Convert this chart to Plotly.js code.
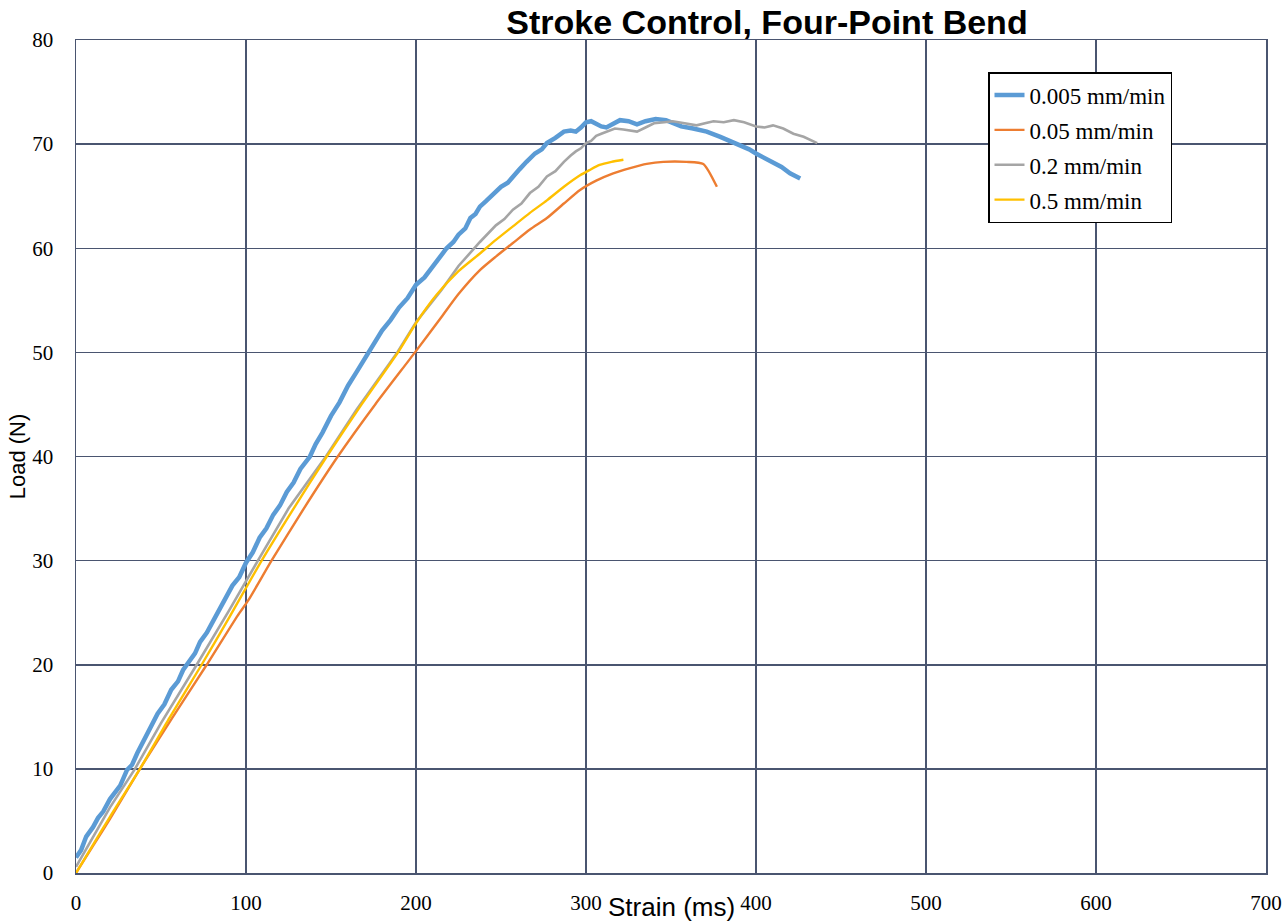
<!DOCTYPE html>
<html>
<head>
<meta charset="utf-8">
<script src="https://cdn.plot.ly/plotly-3.0.1.min.js"></script>
<style>html,body{margin:0;padding:0;background:#fff;}#chart{width:1285px;height:923px;}</style>
</head>
<body>
<div id="chart"></div>
<script>
const seriesNames = ["0.005 mm/min", "0.05 mm/min", "0.2 mm/min", "0.5 mm/min"];

const blueX = [0,3,6,10,13,16,20,23,26,30,33,36,40,44,48,52,56,60,63,66,70,73,77,80,84,88,92,96,100,104,108,112,116,120,124,128,132,137.6,141,145,150,155,160,165,171.8,176,180,185,190,195,200,205,210,214,218,222,225,229,232,235,237.6,241,245,250,254,257,261,265,270,274,277,282,287,291,294,297,300,303,306,309,312,316,320,325,330,335,341,347,352,356,363,371,379,385,391,396,400,405,410,415,420,426];
const blueY = [1.5,2.2,3.5,4.4,5.3,5.9,7.1,7.7,8.4,9.9,10.4,11.5,12.8,13.9,15.3,16.2,17.6,18.4,19.5,20.2,21.1,22.2,23.1,24,25.2,26.2,27.6,28.4,29.8,30.8,32.2,33.1,34.4,35.3,36.6,37.5,38.8,40,41.2,42.3,43.9,45.2,46.8,48.1,50,51,52.1,53.1,54.3,55.2,56.5,57.2,58.3,59,60,60.6,61.3,61.9,62.9,63.3,64,64.5,65.1,65.9,66.3,66.9,67.6,68.3,69.1,69.5,70.1,70.6,71.2,71.3,71.2,71.6,72.1,72.2,71.9,71.7,71.6,72.0,72.3,72.2,71.9,72.2,72.4,72.3,71.9,71.7,71.5,71.2,70.7,70.3,69.9,69.5,69.1,68.7,68.2,67.8,67.2,66.7];

const orangeX = [0,10,20,37.6,57,76.9,95,101.4,115,134,154,176,199.4,215,225,237.6,247,257,267,277,287,296.5,306,316,326,335.7,345.5,359,369,377];
const orangeY = [0,2.6,5.2,10,15,20,24.7,26.2,30,35,40,45,50,53.4,55.6,57.9,59.2,60.5,61.8,62.9,64.3,65.6,66.5,67.2,67.7,68.1,68.3,68.3,68.1,65.9];

const grayX = [0,10,20,34.7,50,71,90,107,125,147,165,189,200,215,225,237.6,247,252,257,262,267,272,277,282,287,291,294,297,300,303,306,309,312,317,322,326,330,335,340,346,351,358,365,370,375,381,387,393,400,405,410,416,422,428,436];
const grayY = [0.6,3.4,6.3,10,14.4,20,25.2,30,35,40,44.5,50,52.9,56,58.3,60.6,62.2,62.8,63.7,64.3,65.3,65.9,66.9,67.4,68.3,68.9,69.3,69.6,70.1,70.3,70.8,71.0,71.2,71.5,71.4,71.3,71.2,71.6,72.0,72.1,72.2,72.0,71.8,72.0,72.2,72.1,72.3,72.1,71.7,71.6,71.8,71.5,71.0,70.7,70.1];

const yellowX = [0,10,20,37.6,55,73.9,90,109.2,128,147.5,168,189.4,200,212,225,237.6,247,257,267,277,287,296.5,302,308,315,322];
const yellowY = [0,2.7,5.4,10,14.9,20,24.5,30,35,40,45,50,52.8,55.5,57.8,59.5,60.8,62.1,63.4,64.6,65.9,67,67.5,68,68.3,68.5];

const xTicks = [0,100,200,300,400,500,600,700];
const yTicks = [0,10,20,30,40,50,60,70,80];

const colors = ["#5B9BD5", "#ED7D31", "#A5A5A5", "#FFC000"];
const widths = [4.5, 2.4, 2.6, 2.4];
const shapes = ["linear", "spline", "linear", "spline"];
const xs = [blueX, orangeX, grayX, yellowX];
const ys = [blueY, orangeY, grayY, yellowY];

const traces = seriesNames.map((n, i) => ({
  x: xs[i], y: ys[i], name: n, type: "scatter", mode: "lines",
  legendgroup: "g" + i,
  line: {color: colors[i], width: widths[i], shape: shapes[i], smoothing: 0.6}
}));

const gridColor = "#4A5570";
const layout = {
  width: 1285, height: 923,
  paper_bgcolor: "#fff", plot_bgcolor: "#fff",
  margin: {l: 76, r: 19, t: 40, b: 50},
  showlegend: true,
  title: {text: "<b>Stroke Control, Four-Point Bend</b>", font: {family: "Liberation Sans, Arial", size: 34, color: "#000"},
          x: 767/1285, xref: "container", xanchor: "center", y: 1 - 22/923, yref: "container", yanchor: "middle"},
  xaxis: {
    range: [0, 700], tickvals: xTicks, ticktext: xTicks.map(String),
    showgrid: true, gridcolor: gridColor, gridwidth: 1.5,
    showline: true, linecolor: gridColor, linewidth: 1.5, mirror: true,
    zeroline: false, ticks: "", ticklabelstandoff: 10,
    tickfont: {family: "Liberation Serif, Times New Roman", size: 21, color: "#000"},
    automargin: false
  },
  yaxis: {
    range: [0, 80], tickvals: yTicks, ticktext: yTicks.map(String),
    showgrid: true, gridcolor: gridColor, gridwidth: 1.5,
    showline: true, linecolor: gridColor, linewidth: 1.5, mirror: true,
    zeroline: false, ticks: "", ticklabelstandoff: 17,
    tickfont: {family: "Liberation Serif, Times New Roman", size: 21, color: "#000"},
    title: {text: "Load (N)", font: {family: "Liberation Sans, Arial", size: 22, color: "#000"}, standoff: 0},
    automargin: false
  },
  annotations: [{
    text: "Strain (ms)", xref: "paper", yref: "paper", x: (671 - 76) / 1190, y: (873 - 907) / 833,
    xanchor: "center", yanchor: "middle", showarrow: false,
    font: {family: "Liberation Sans, Arial", size: 26, color: "#000"}
  }],
  legend: {
    x: (988 - 76) / 1190, y: (873 - 72) / 833, xanchor: "left", yanchor: "top",
    bordercolor: "#000", borderwidth: 1.5, bgcolor: "#fff",
    font: {family: "Liberation Serif, Times New Roman", size: 23, color: "#000"},
    traceorder: "grouped", tracegroupgap: 2, itemwidth: 30
  }
};

Plotly.newPlot("chart", traces, layout, {displayModeBar: false, staticPlot: true});
</script>
</body>
</html>
